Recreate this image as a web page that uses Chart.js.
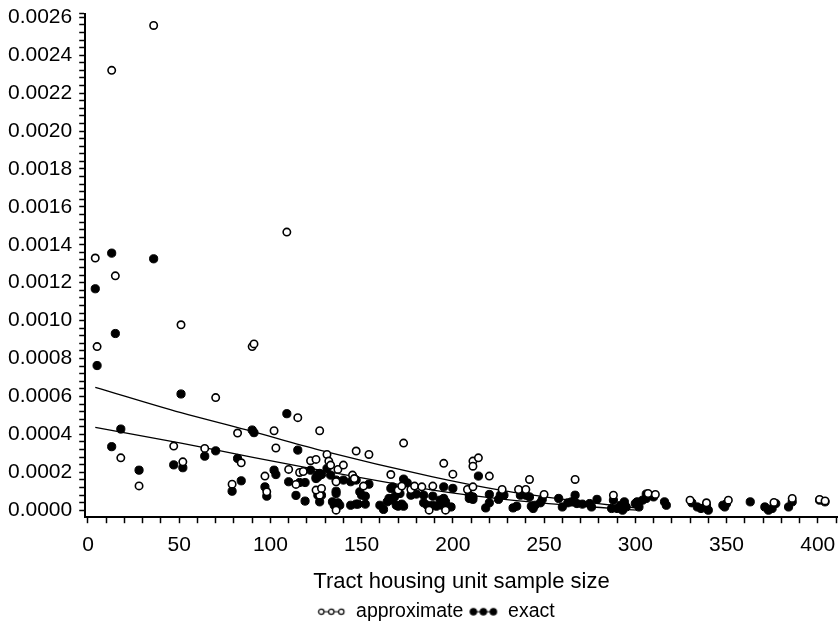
<!DOCTYPE html>
<html>
<head>
<meta charset="utf-8">
<script src="https://cdn.jsdelivr.net/npm/chart.js@4.4.1/dist/chart.umd.min.js"></script>
<style>
  html, body { margin: 0; padding: 0; background: #fff; }
  #wrap { width: 838px; height: 628px; }
</style>
</head>
<body>
<div id="wrap"><canvas id="chart"></canvas></div>
<script>
// approximate (open circles): [sample size, value]
const approximate = [
  [36, 25.57e-4], [13, 23.2e-4], [109, 14.67e-4], [4, 13.3e-4], [15, 12.36e-4],
  [51, 9.78e-4], [5, 8.63e-4], [90, 8.63e-4], [91, 8.77e-4], [70, 5.94e-4],
  [115, 4.88e-4], [82, 4.07e-4], [102, 4.19e-4], [47, 3.38e-4], [103, 3.28e-4],
  [64, 3.26e-4], [18, 2.76e-4], [52, 2.55e-4], [84, 2.5e-4], [28, 1.28e-4],
  [79, 1.37e-4], [110, 2.15e-4], [97, 1.8e-4], [98, 0.97e-4], [114, 1.36e-4],
  [116, 1.99e-4], [127, 4.19e-4], [118, 2.04e-4], [122, 2.61e-4], [125, 2.68e-4],
  [126, 0.97e-4], [127, 0.79e-4], [147, 3.12e-4], [154, 2.94e-4], [173, 3.54e-4],
  [131, 2.94e-4], [132, 2.59e-4], [133, 2.38e-4], [137, 2.15e-4], [140, 2.38e-4],
  [136, 1.5e-4], [145, 1.85e-4], [146, 1.67e-4], [151, 1.27e-4], [125, 1.06e-4],
  [128, 1.15e-4], [136, 0.0], [166, 1.88e-4], [170, 1.06e-4], [172, 1.27e-4],
  [177, 1.09e-4], [179, 1.27e-4], [183, 1.23e-4], [189, 1.27e-4], [187, 0.0],
  [196, 0.0], [195, 2.47e-4], [200, 1.9e-4], [211, 2.59e-4], [214, 2.76e-4],
  [211, 2.32e-4], [220, 1.8e-4], [208, 1.09e-4], [211, 1.23e-4], [227, 1.09e-4],
  [236, 1.09e-4], [240, 1.09e-4], [242, 1.62e-4], [250, 0.83e-4], [267, 1.62e-4],
  [288, 0.79e-4], [307, 0.88e-4], [311, 0.83e-4], [330, 0.53e-4], [339, 0.39e-4],
  [351, 0.53e-4], [376, 0.41e-4], [386, 0.62e-4], [401, 0.57e-4], [404, 0.49e-4]
];

// exact (filled circles): [sample size, value]
const exact = [
  [13, 13.56e-4], [36, 13.26e-4], [4, 11.68e-4], [15, 9.32e-4], [5, 7.63e-4],
  [51, 6.13e-4], [109, 5.09e-4], [18, 4.28e-4], [90, 4.23e-4], [91, 4.09e-4],
  [13, 3.35e-4], [115, 3.17e-4], [70, 3.13e-4], [64, 2.85e-4], [52, 2.24e-4],
  [47, 2.39e-4], [82, 2.73e-4], [28, 2.11e-4], [84, 1.55e-4], [79, 1.0e-4],
  [102, 2.11e-4], [103, 1.88e-4], [110, 1.5e-4], [97, 1.23e-4], [98, 0.74e-4],
  [114, 0.78e-4], [116, 1.46e-4], [119, 1.46e-4], [119, 0.48e-4], [122, 2.11e-4],
  [126, 1.88e-4], [125, 1.73e-4], [126, 0.79e-4], [127, 0.44e-4], [131, 2.2e-4],
  [126, 1.76e-4], [128, 1.88e-4], [127, 1.94e-4], [133, 1.85e-4], [136, 1.59e-4],
  [140, 1.59e-4], [144, 1.5e-4], [147, 1.59e-4], [154, 1.37e-4], [149, 0.97e-4],
  [125, 1.67e-4], [128, 0.79e-4], [134, 0.44e-4], [135, 0.26e-4], [137, 0.39e-4],
  [138, 0.26e-4], [136, 0.88e-4], [136, 1.0e-4], [144, 0.26e-4], [147, 0.32e-4],
  [148, 0.32e-4], [152, 0.32e-4], [150, 0.79e-4], [152, 0.74e-4], [173, 1.64e-4],
  [175, 1.44e-4], [167, 1.23e-4], [169, 1.06e-4], [165, 0.62e-4], [167, 0.53e-4],
  [164, 0.44e-4], [169, 0.26e-4], [170, 0.21e-4], [173, 0.21e-4], [172, 0.32e-4],
  [160, 0.26e-4], [162, 0.04e-4], [177, 0.79e-4], [180, 0.85e-4], [184, 0.79e-4],
  [189, 0.74e-4], [184, 0.39e-4], [186, 0.26e-4], [187, 0.17e-4], [189, 0.26e-4],
  [191, 0.21e-4], [193, 0.53e-4], [195, 0.62e-4], [196, 0.44e-4], [194, 0.26e-4],
  [197, 0.17e-4], [199, 0.17e-4], [195, 0.32e-4], [195, 1.23e-4], [200, 1.15e-4],
  [214, 1.8e-4], [209, 0.79e-4], [211, 0.7e-4], [209, 0.62e-4], [211, 0.57e-4],
  [220, 0.83e-4], [220, 0.39e-4], [218, 0.12e-4], [226, 0.79e-4], [228, 0.79e-4],
  [225, 0.57e-4], [233, 0.12e-4], [235, 0.21e-4], [237, 0.79e-4], [240, 0.79e-4],
  [242, 0.7e-4], [243, 0.21e-4], [244, 0.09e-4], [245, 0.26e-4], [248, 0.39e-4],
  [249, 0.57e-4], [258, 0.62e-4], [260, 0.17e-4], [263, 0.39e-4], [267, 0.79e-4],
  [265, 0.44e-4], [268, 0.35e-4], [271, 0.32e-4], [275, 0.35e-4], [276, 0.17e-4],
  [279, 0.57e-4], [288, 0.53e-4], [287, 0.09e-4], [290, 0.09e-4], [292, 0.26e-4],
  [294, 0.44e-4], [295, 0.17e-4], [293, 0.0], [300, 0.35e-4], [302, 0.17e-4],
  [301, 0.44e-4], [304, 0.53e-4], [306, 0.62e-4], [307, 0.79e-4], [310, 0.7e-4],
  [306, 0.85e-4], [316, 0.44e-4], [317, 0.26e-4], [331, 0.39e-4], [334, 0.17e-4],
  [336, 0.09e-4], [339, 0.26e-4], [340, 0.0], [348, 0.26e-4], [349, 0.17e-4],
  [350, 0.35e-4], [363, 0.44e-4], [371, 0.17e-4], [373, 0.0], [375, 0.09e-4],
  [377, 0.35e-4], [384, 0.17e-4], [386, 0.44e-4], [401, 0.53e-4], [404, 0.44e-4],
  [166, 1.15e-4], [168, 0.7e-4], [171, 0.88e-4]
];

// smoothed fit curves
const fitX = [4, 51, 87, 127, 189, 226, 264, 301];
const fitApprox = [6.48e-4, 5.14e-4, 4.23e-4, 3.17e-4, 1.76e-4, 1.06e-4, 0.53e-4, 0.11e-4];
const fitExact = [4.37e-4, 3.54e-4, 2.85e-4, 2.11e-4, 1.06e-4, 0.6e-4, 0.26e-4, 0.0];

const xTicks = [];
for (let v = 0; v <= 410; v += 10) xTicks.push(v);
const yTicks = [];
for (let i = 0; i <= 65; i++) yTicks.push(i * 4e-5);

const toPts = arr => arr.map(p => ({ x: p[0], y: p[1] }));

// legend marker: three circles on a short line
function marker(filled) {
  const c = document.createElement('canvas');
  c.width = 30; c.height = 10;
  const g = c.getContext('2d');
  g.strokeStyle = '#000';
  g.lineWidth = 1;
  g.beginPath(); g.moveTo(2, 5); g.lineTo(28, 5); g.stroke();
  [5, 15, 25].forEach(cx => {
    g.beginPath();
    g.arc(cx, 5, filled ? 3.2 : 2.7, 0, Math.PI * 2);
    g.fillStyle = filled ? '#000' : '#fff';
    g.fill();
    g.lineWidth = 1.2;
    g.stroke();
  });
  return c;
}
const markers = [marker(false), marker(true)];

const fonte = 'Liberation Sans, Arial, sans-serif';

const moveLegend = {
  id: 'moveLegend',
  afterLayout(chart) {
    const lg = chart.legend;
    lg.left += 16;
    lg.right += 16;
  }
};

new Chart(document.getElementById('chart'), {
  type: 'scatter',
  data: {
    datasets: [{
      label: 'approximate',
      data: toPts(approximate),
      pointRadius: 3.7,
      pointBorderWidth: 1.6,
      pointBackgroundColor: '#fff',
      pointBorderColor: '#000'
    }, {
      label: 'exact',
      data: toPts(exact),
      pointRadius: 4.1,
      pointBorderWidth: 1,
      pointBackgroundColor: '#000',
      pointBorderColor: '#000'
    }, {
      type: 'line',
      label: 'fit approximate',
      data: fitX.map((x, i) => ({ x: x, y: fitApprox[i] })),
      borderColor: '#000',
      borderWidth: 1.3,
      pointRadius: 0,
      cubicInterpolationMode: 'monotone',
      fill: false
    }, {
      type: 'line',
      label: 'fit exact',
      data: fitX.map((x, i) => ({ x: x, y: fitExact[i] })),
      borderColor: '#000',
      borderWidth: 1.3,
      pointRadius: 0,
      cubicInterpolationMode: 'monotone',
      fill: false
    }]
  },
  options: {
    responsive: true,
    maintainAspectRatio: false,
    animation: false,
    layout: { autoPadding: false, padding: { left: 1, top: 13.5, right: 0, bottom: -3.5 } },
    plugins: {
      tooltip: { enabled: false },
      legend: {
        position: 'bottom',
        labels: {
          color: '#000',
          font: { family: fonte, size: 19.5 },
          usePointStyle: true,
          pointStyleWidth: 30,
          boxHeight: 10,
          padding: 5,
          filter: item => item.datasetIndex < 2,
          generateLabels: chart => {
            const items = Chart.defaults.plugins.legend.labels.generateLabels(chart);
            items.forEach(it => { if (it.datasetIndex < 2) it.pointStyle = markers[it.datasetIndex]; });
            return items;
          }
        }
      }
    },
    scales: {
      x: {
        type: 'linear',
        min: -1.5,
        max: 411,
        afterBuildTicks: axis => { axis.ticks = xTicks.map(v => ({ value: v })); },
        ticks: {
          color: '#000',
          font: { family: fonte, size: 21, lineHeight: 1.9 },
          padding: 2,
          maxRotation: 0,
          autoSkip: false,
          callback: v => (v % 50 === 0 ? String(v) : '')
        },
        grid: { drawOnChartArea: false, tickLength: 6, tickColor: '#000', tickWidth: 1.5 },
        border: { color: '#000', width: 2 },
        title: {
          display: true,
          text: 'Tract housing unit sample size',
          color: '#000',
          font: { family: fonte, size: 22 },
          padding: { top: 2, bottom: 1.5 }
        }
      },
      y: {
        type: 'linear',
        min: -0.000037,
        max: 0.00262,
        // extra unlabeled tick at the axis end, tiny font so the top label needs no extra room
        afterBuildTicks: axis => {
          axis.ticks = yTicks.map(v => ({ value: v }));
          axis.ticks.push({ value: 0.00262 });
        },
        ticks: {
          color: '#000',
          font: ctx => ({ family: fonte, size: ctx.index >= yTicks.length ? 1 : 21 }),
          padding: 7,
          autoSkip: false,
          callback: (v, i) => (i >= yTicks.length ? '' : (i % 5 === 0 ? v.toFixed(4) : ''))
        },
        grid: { drawOnChartArea: false, tickLength: 6, tickColor: '#000', tickWidth: 1.5 },
        border: { color: '#000', width: 2 }
      }
    }
  },
  plugins: [moveLegend]
});
</script>
</body>
</html>
